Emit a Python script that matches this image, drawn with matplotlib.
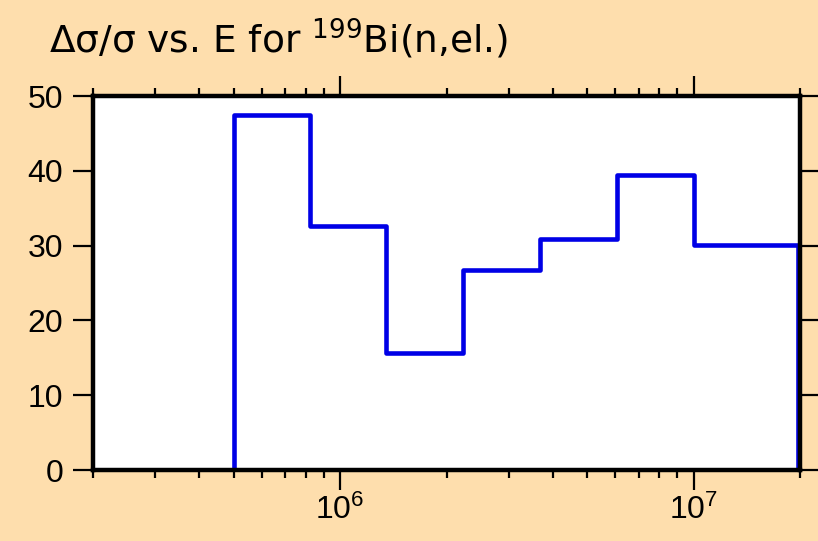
import numpy as np
import matplotlib
matplotlib.use("Agg")
import matplotlib.pyplot as plt
from matplotlib.ticker import LogLocator, FixedLocator

plt.rcParams['font.family'] = ['Liberation Sans', 'DejaVu Sans']
plt.rcParams['font.sans-serif'] = ['DejaVu Sans']
plt.rcParams['mathtext.fontset'] = 'custom'
plt.rcParams['mathtext.rm'] = 'Liberation Sans'
plt.rcParams['mathtext.it'] = 'Liberation Sans:italic'
plt.rcParams['mathtext.bf'] = 'Liberation Sans:bold'
plt.rcParams['mathtext.sf'] = 'DejaVu Sans'

# group boundaries (eV) and relative uncertainty (%)
energy_edges = [5.0e5, 8.2e5, 1.35e6, 2.23e6, 3.68e6, 6.07e6, 1.0e7, 1.97e7]
rel_unc = [47.4, 32.6, 15.6, 26.8, 30.95, 39.4, 30.05]

bg = '#FEDEAD'
fig = plt.figure(figsize=(8.18, 5.41), dpi=100, facecolor=bg)
ax = fig.add_axes([0.1137, 0.1312, 0.8643, 0.6913])
ax.set_facecolor('white')

x = np.array(energy_edges)
y = np.concatenate([[0.0], rel_unc, [0.0]])
xs = np.concatenate([[x[0]], x])
ax.step(xs, y, where='post', color='#0000E6', lw=3.3, zorder=3)

ax.set_xscale('log')
ax.set_xlim(2e5, 2e7)
ax.set_ylim(0, 50)
ax.yaxis.set_major_locator(FixedLocator([0, 10, 20, 30, 40, 50]))
ax.xaxis.set_major_locator(FixedLocator([1e6, 1e7]))
ax.xaxis.set_minor_locator(LogLocator(base=10, subs=np.arange(2, 10)))

for s in ax.spines.values():
    s.set_linewidth(3.2)
    s.set_zorder(4)

ax.tick_params(which='major', direction='out', length=14.5, width=1.6,
               labelsize=23, top=True, right=True, pad=3)
ax.tick_params(axis='y', which='major', pad=7)
ax.tick_params(which='minor', direction='out', length=5.5, width=1.6,
               top=True, right=False, left=False)
ax.tick_params(axis='y', which='minor', left=False, right=False)

fig.text(0.0605, 0.9015, r'Δσ/σ vs. E for $^{\mathsf{199}}$Bi(n,el.)',
         fontsize=27, family='DejaVu Sans', ha='left', va='baseline')

fig.savefig('out.png', dpi=100, facecolor=bg)
